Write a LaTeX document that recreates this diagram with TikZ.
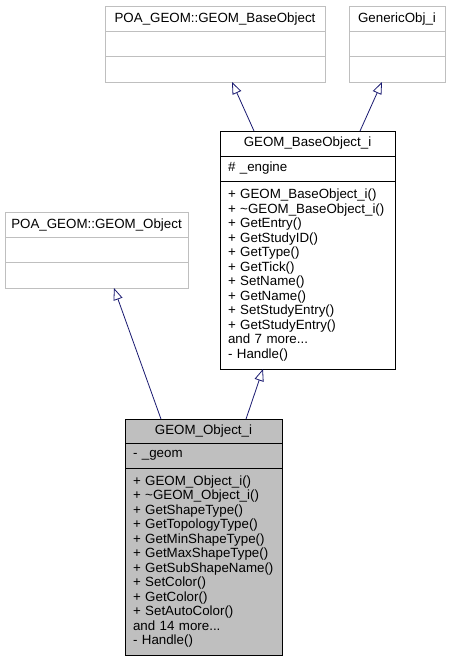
\documentclass[tikz,border=0pt]{standalone}
\usepackage{fontspec}
\setmainfont{Liberation Sans}
\usetikzlibrary{positioning,arrows.meta}
\definecolor{extgray}{RGB}{191,191,191}
\definecolor{clsfill}{RGB}{191,191,191}
\definecolor{inhblue}{RGB}{25,25,112}
\begin{document}
\begin{tikzpicture}[x=0.75pt, y=-0.75pt,
  every node/.style={font=\fontsize{10}{10.9}\selectfont},
  part/.style={draw, rectangle, inner sep=0pt, outer sep=0pt, minimum height=19pt},
  body/.style={part, align=left, inner xsep=6pt},
  ext/.style={draw=extgray},
  inh/.style={draw=inhblue, line width=0.6pt, -{Triangle[open, length=9pt, width=7pt]}}]
  \useasboundingbox (0,0) rectangle (452,661);
  % base classes
  \node[part, ext, minimum width=165pt, anchor=north] (poaBT) at (215,6) {POA\_GEOM::GEOM\_BaseObject};
  \node[part, ext, minimum width=165pt, below=0pt of poaBT] (poaBA) {};
  \node[part, ext, minimum width=165pt, below=0pt of poaBA] (poaBM) {};
  \node[part, ext, minimum width=72pt, anchor=north] (genT) at (397,6) {GenericObj\_i};
  \node[part, ext, minimum width=72pt, below=0pt of genT] (genA) {};
  \node[part, ext, minimum width=72pt, below=0pt of genA] (genM) {};
  \node[part, ext, minimum width=137.25pt, anchor=north] (poaOT) at (96.5,212) {POA\_GEOM::GEOM\_Object};
  \node[part, ext, minimum width=137.25pt, below=0pt of poaOT] (poaOA) {};
  \node[part, ext, minimum width=137.25pt, below=0pt of poaOA] (poaOM) {};
  % GEOM_BaseObject_i
  \node[part, minimum width=131.25pt, minimum height=18.75pt, anchor=north] (baseT) at (307.5,131) {GEOM\_BaseObject\_i};
  \node[body, minimum width=131.25pt, minimum height=18.75pt, text width=119.25pt, below=0pt of baseT] (baseA) {\# \_engine};
  \node[body, minimum width=131.25pt, minimum height=141pt, text width=119.25pt, below=0pt of baseA] (baseM)
    {+ GEOM\_BaseObject\_i()\\+ \textasciitilde GEOM\_BaseObject\_i()\\+ GetEntry()\\+ GetStudyID()\\+ GetType()\\+ GetTick()\\+ SetName()\\+ GetName()\\+ SetStudyEntry()\\+ GetStudyEntry()\\and 7 more...\\- Handle()};
  % GEOM_Object_i
  \node[part, fill=clsfill, minimum width=117.75pt, minimum height=18pt, anchor=north] (objT) at (203.5,419) {GEOM\_Object\_i};
  \node[body, fill=clsfill, minimum width=117.75pt, minimum height=18.75pt, text width=105.75pt, below=0pt of objT] (objA) {- \_geom};
  \node[body, fill=clsfill, minimum width=117.75pt, minimum height=140.25pt, text width=105.75pt, below=0pt of objA] (objM)
    {+ GEOM\_Object\_i()\\+ \textasciitilde GEOM\_Object\_i()\\+ GetShapeType()\\+ GetTopologyType()\\+ GetMinShapeType()\\+ GetMaxShapeType()\\+ GetSubShapeName()\\+ SetColor()\\+ GetColor()\\+ SetAutoColor()\\and 14 more...\\- Handle()};
  % inheritance
  \draw[inh] ([xshift=-31.9pt]objT.north) -- ([xshift=13.1pt]poaOM.south);
  \draw[inh] ([xshift=31.9pt]objT.north) -- ([xshift=-33.4pt]baseM.south);
  \draw[inh] ([xshift=-40.1pt]baseT.north) -- ([xshift=12.75pt]poaBM.south);
  \draw[inh] ([xshift=39.4pt]baseT.north) -- ([xshift=-11.25pt]genM.south);
\end{tikzpicture}
\end{document}
